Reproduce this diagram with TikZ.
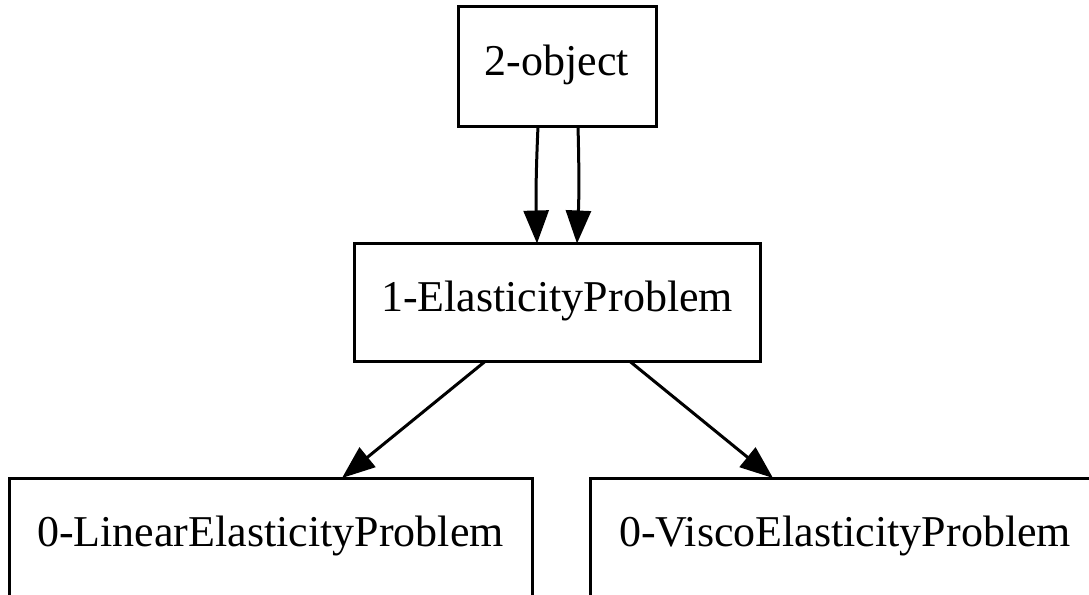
\documentclass[tikz,border=0pt]{standalone}
\usepackage{fontspec}
\setmainfont{Liberation Serif}
\usetikzlibrary{arrows.meta}
\begin{document}
\begin{tikzpicture}[x=1pt,y=-1pt,
  box/.style={draw=black,line width=3pt,rectangle,inner sep=0pt,outer sep=0pt,
    text height=28pt,text depth=11pt,font=\fontsize{44}{50}\selectfont},
  edge/.style={draw=black,line width=3pt,-{Triangle[length=33pt,width=25pt]}}]
\useasboundingbox (0,0) rectangle (1089,594);
\node[box,minimum width=198pt,minimum height=119pt] (obj) at (557,66.5) {2-object};
\node[box,minimum width=406pt,minimum height=118pt] (ep) at (557,302.5) {1-ElasticityProblem};
\node[box,minimum width=523pt,minimum height=119pt] (lep) at (270.5,537.5) {0-LinearElasticityProblem};
\node[box,minimum width=510pt,minimum height=119pt] (vep) at (845,537.5) {0-ViscoElasticityProblem};
\draw[edge] ([xshift=-19pt]obj.south) to[bend right=2] ([xshift=-20pt]ep.north);
\draw[edge] ([xshift=21pt]obj.south) to[bend left=2] ([xshift=20pt]ep.north);
\draw[edge] ([xshift=-72pt]ep.south) -- ([xshift=71.5pt]lep.north);
\draw[edge] ([xshift=73pt]ep.south) -- ([xshift=-72pt]vep.north);
\end{tikzpicture}
\end{document}
